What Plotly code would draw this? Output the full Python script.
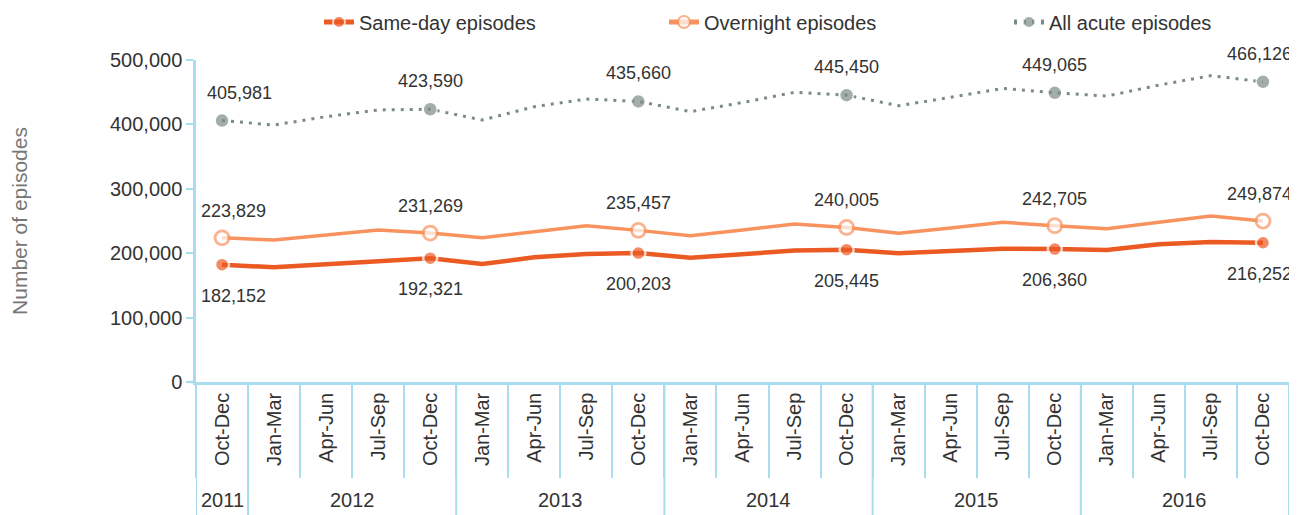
import plotly.graph_objects as go

years = ["2011"] + ["2012"] * 4 + ["2013"] * 4 + ["2014"] * 4 + ["2015"] * 4 + ["2016"] * 4
quarters = ["Oct-Dec"] + ["Jan-Mar", "Apr-Jun", "Jul-Sep", "Oct-Dec"] * 5

same_day = [182152, 178000, 182700, 187400, 192321, 183200, 193600, 198800, 200203,
            193000, 199000, 204000, 205445, 199800, 203500, 207000, 206360,
            205000, 214000, 217500, 216252]
overnight = [223829, 220500, 228300, 236000, 231269, 224000, 233400, 242800, 235457,
             227200, 236000, 245300, 240005, 230800, 239000, 247900, 242705,
             238000, 248000, 257800, 249874]
all_acute = [405981, 399000, 412000, 422400, 423590, 406800, 427500, 439400, 435660,
             419800, 434000, 449800, 445450, 429000, 442000, 456000, 449065,
             444000, 461000, 475700, 466126]

y_ticks = [0, 100000, 200000, 300000, 400000, 500000]

C_SAME = "#ec5a24"
C_OVER = "#f8935f"
C_ALL = "#7b8b89"
C_AXIS = "#a8dcee"
FONT = "Liberation Sans"

keys = [f"{q} {y}" for q, y in zip(quarters, years)]
is_mark = [q == "Oct-Dec" for q in quarters]

fig = go.Figure()

fig.add_trace(go.Scatter(
    x=keys, y=same_day, name="Same-day episodes", mode="lines+markers",
    line=dict(color=C_SAME, width=4.5),
    marker=dict(size=[14 if m else 0 for m in is_mark], color=C_SAME,
                line=dict(color="white", width=2.5)),
    hoverinfo="skip"))
fig.add_trace(go.Scatter(
    x=keys, y=overnight, name="Overnight episodes", mode="lines+markers",
    line=dict(color=C_OVER, width=3.5),
    marker=dict(size=[14 if m else 0 for m in is_mark], color="white",
                line=dict(color=C_OVER, width=2.8)),
    hoverinfo="skip"))
fig.add_trace(go.Scatter(
    x=keys, y=all_acute, name="All acute episodes", mode="lines+markers",
    line=dict(color=C_ALL, width=3, dash="3px,6px"),
    marker=dict(size=[14 if m else 0 for m in is_mark], color=C_ALL,
                line=dict(color="white", width=1.5)),
    hoverinfo="skip"))

# figure sits 8px inside the page (body margin), so size it to fill the rest
W, H = 1297 - 8, 515 - 8
ML, MR, MT, MB = 188, 8, 52, 133
plot_h = H - MT - MB
plot_w = W - ML - MR
bottom = -MB / plot_h

annotations = []
last = len(keys) - 1
# data labels at the Oct-Dec points
for vals, yshift, first_dx in [(all_acute, 28, 17), (overnight, 27, 11), (same_day, -31, 11)]:
    for i, (k, v, m) in enumerate(zip(keys, vals, is_mark)):
        if not m:
            continue
        dx = first_dx if i == 0 else (-3 if i == last else 0)
        annotations.append(dict(
            x=k, y=v, xref="x", yref="y", text=f"{v:,}", showarrow=False,
            yshift=yshift, xshift=dx,
            font=dict(family=FONT, size=18, color="#333333")))

# year groups: dividers and labels
shapes = []
groups = []
for i, y in enumerate(years):
    if i == 0 or years[i - 1] != y:
        groups.append([y, i, i])
    else:
        groups[-1][2] = i
for y, s, e in groups:
    shapes.append(dict(type="line", xref="x", yref="paper", x0=s - 0.5, x1=s - 0.5,
                       y0=0, y1=bottom, line=dict(color=C_AXIS, width=2)))
    annotations.append(dict(text=y, xref="x", yref="paper", x=(s + e) / 2,
                            y=-118 / plot_h, yanchor="middle", showarrow=False,
                            font=dict(family=FONT, size=20, color="#333333")))
shapes.append(dict(type="line", xref="x", yref="paper", x0=len(years) - 0.5,
                   x1=len(years) - 0.5, y0=0, y1=bottom,
                   line=dict(color=C_AXIS, width=2)))
# x axis line runs a little past the y axis on the left
shapes.append(dict(type="line", xref="paper", yref="paper", x0=-8 / plot_w, x1=0,
                   y0=0, y1=0, line=dict(color=C_AXIS, width=2.5)))

fig.update_layout(
    width=W, height=H,
    margin=dict(l=ML, r=MR, t=MT, b=MB, autoexpand=False),
    paper_bgcolor="white", plot_bgcolor="white",
    font=dict(family=FONT, size=20, color="#333333"),
    showlegend=True,
    legend=dict(orientation="h", xref="container", yref="container",
                x=311 / W, y=1 - 14 / H, xanchor="left", yanchor="middle",
                entrywidth=300, entrywidthmode="pixels", itemsizing="constant",
                font=dict(family=FONT, size=20, color="#333333"),
                traceorder="normal"),
    shapes=shapes, annotations=annotations,
)

fig.update_yaxes(
    range=[0, 500000], tickvals=y_ticks, ticktext=[f"{v:,}" for v in y_ticks],
    showgrid=False, zeroline=False, showline=True, linecolor=C_AXIS, linewidth=2.5,
    ticks="outside", ticklen=7, tickwidth=2, tickcolor=C_AXIS,
    tickfont=dict(family=FONT, size=20, color="#333333"),
    title=dict(text="Number of episodes", standoff=87,
               font=dict(family=FONT, size=21, color="#777777")),
    automargin=False,
)

fig.update_xaxes(
    type="category", categoryorder="array", categoryarray=keys,
    range=[-0.5, len(keys) - 0.5],
    tickmode="array", tickvals=keys, ticktext=quarters,
    showgrid=False, zeroline=False,
    showline=True, linecolor=C_AXIS, linewidth=2.5,
    ticks="outside", tickson="boundaries", ticklen=93, tickwidth=2, tickcolor=C_AXIS,
    tickangle=-90,
    tickfont=dict(family=FONT, size=20, color="#333333"),
    automargin=False,
)

fig.write_html("out.html")
